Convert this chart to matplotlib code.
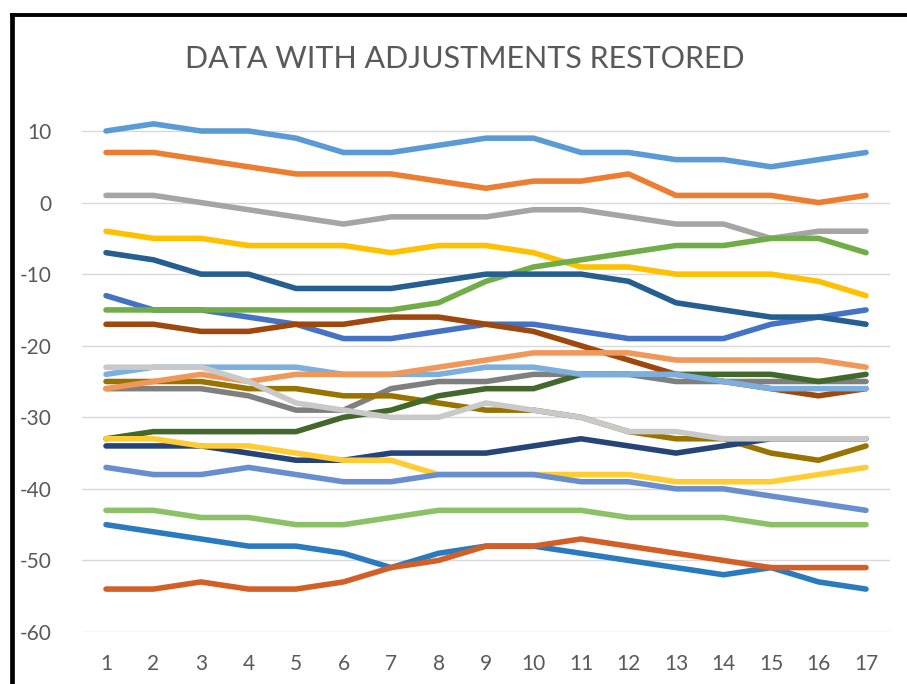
import numpy as np
import matplotlib.pyplot as plt
from matplotlib.lines import Line2D

plt.rcParams['font.family'] = ['Lato', 'DejaVu Sans']
plt.rcParams['axes.unicode_minus'] = False

x = np.arange(1, 18)

# series values, in drawing order (later ones sit on top)
s_lightblue = [10, 11, 10, 10, 9, 7, 7, 8, 9, 9, 7, 7, 6, 6, 5, 6, 7]
s_orange = [7, 7, 6, 5, 4, 4, 4, 3, 2, 3, 3, 4, 1, 1, 1, 0, 1]
s_gray = [1, 1, 0, -1, -2, -3, -2, -2, -2, -1, -1, -2, -3, -3, -5, -4, -4]
s_yellow = [-4, -5, -5, -6, -6, -6, -7, -6, -6, -7, -9, -9, -10, -10, -10, -11, -13]
s_blue = [-13, -15, -15, -16, -17, -19, -19, -18, -17, -17, -18, -19, -19, -19, -17, -16, -15]
s_green = [-15, -15, -15, -15, -15, -15, -15, -14, -11, -9, -8, -7, -6, -6, -5, -5, -7]
s_darkblue = [-7, -8, -10, -10, -12, -12, -12, -11, -10, -10, -10, -11, -14, -15, -16, -16, -17]
s_brown = [-17, -17, -18, -18, -17, -17, -16, -16, -17, -18, -20, -22, -24, -25, -26, -27, -26]
s_darkgray = [-26, -26, -26, -27, -29, -29, -26, -25, -25, -24, -24, -24, -25, -25, -25, -25, -25]
s_olive = [-25, -25, -25, -26, -26, -27, -27, -28, -29, -29, -30, -32, -33, -33, -35, -36, -34]
s_navy = [-34, -34, -34, -35, -36, -36, -35, -35, -35, -34, -33, -34, -35, -34, -33, -33, -33]
s_darkgreen = [-33, -32, -32, -32, -32, -30, -29, -27, -26, -26, -24, -24, -24, -24, -24, -25, -24]
s_skyblue = [-24, -23, -23, -23, -23, -24, -24, -24, -23, -23, -24, -24, -24, -25, -26, -26, -26]
s_lightorange = [-26, -25, -24, -25, -24, -24, -24, -23, -22, -21, -21, -21, -22, -22, -22, -22, -23]
s_lightgray = [-23, -23, -23, -25, -28, -29, -30, -30, -28, -29, -30, -32, -32, -33, -33, -33, -33]
s_gold = [-33, -33, -34, -34, -35, -36, -36, -38, -38, -38, -38, -38, -39, -39, -39, -38, -37]
s_cornflower = [-37, -38, -38, -37, -38, -39, -39, -38, -38, -38, -39, -39, -40, -40, -41, -42, -43]
s_lightgreen = [-43, -43, -44, -44, -45, -45, -44, -43, -43, -43, -43, -44, -44, -44, -45, -45, -45]
s_midblue = [-45, -46, -47, -48, -48, -49, -51, -49, -48, -48, -49, -50, -51, -52, -51, -53, -54]
s_rust = [-54, -54, -53, -54, -54, -53, -51, -50, -48, -48, -47, -48, -49, -50, -51, -51, -51]

series = [s_lightblue, s_orange, s_gray, s_yellow, s_blue, s_green, s_darkblue, s_brown,
          s_darkgray, s_olive, s_navy, s_darkgreen, s_skyblue, s_lightorange, s_lightgray,
          s_gold, s_cornflower, s_lightgreen, s_midblue, s_rust]
colors = ['#5B9BD5', '#ED7D31', '#A5A5A5', '#FFC000', '#4472C4', '#70AD47', '#255E91', '#9E480E',
          '#7F7F7F', '#997300', '#264478', '#43682B', '#7CAFDD', '#F1975A', '#C9C9C9',
          '#FFCD33', '#698ED0', '#8CC168', '#2A7AC0', '#D35F27']

fig = plt.figure(figsize=(9.07, 6.84), dpi=100)
ax = fig.add_axes([0.0907, 0.076, 0.8903, 0.7848])

for vals, c in zip(series, colors):
    ax.plot(x, vals, color=c, lw=4.0, solid_capstyle='round', solid_joinstyle='round')

ax.set_xlim(0.5, 17.5)
ax.set_ylim(-60, 15)
ax.set_yticks(np.arange(-60, 11, 10))
ax.set_xticks(x)
ax.grid(axis='y', color='#D9D9D9', lw=1.0)
ax.set_axisbelow(True)
for sp in ax.spines.values():
    sp.set_visible(False)
ax.tick_params(length=0, labelsize=15, labelcolor='#595959')
ax.tick_params(axis='x', pad=16)
ax.tick_params(axis='y', pad=22)

fig.text(0.513, 0.914, 'DATA WITH ADJUSTMENTS RESTORED', ha='center', va='center',
         fontsize=22, color='#595959')

# black frame of the chart object (cut off on the right and bottom)
fig.add_artist(Line2D([0.0128, 1.0], [0.9785, 0.9785], color='black', lw=2.8,
                      transform=fig.transFigure))
fig.add_artist(Line2D([0.0128, 0.0128], [0.0, 0.9785], color='black', lw=3.4,
                      transform=fig.transFigure))

fig.savefig('out.png', dpi=100)
